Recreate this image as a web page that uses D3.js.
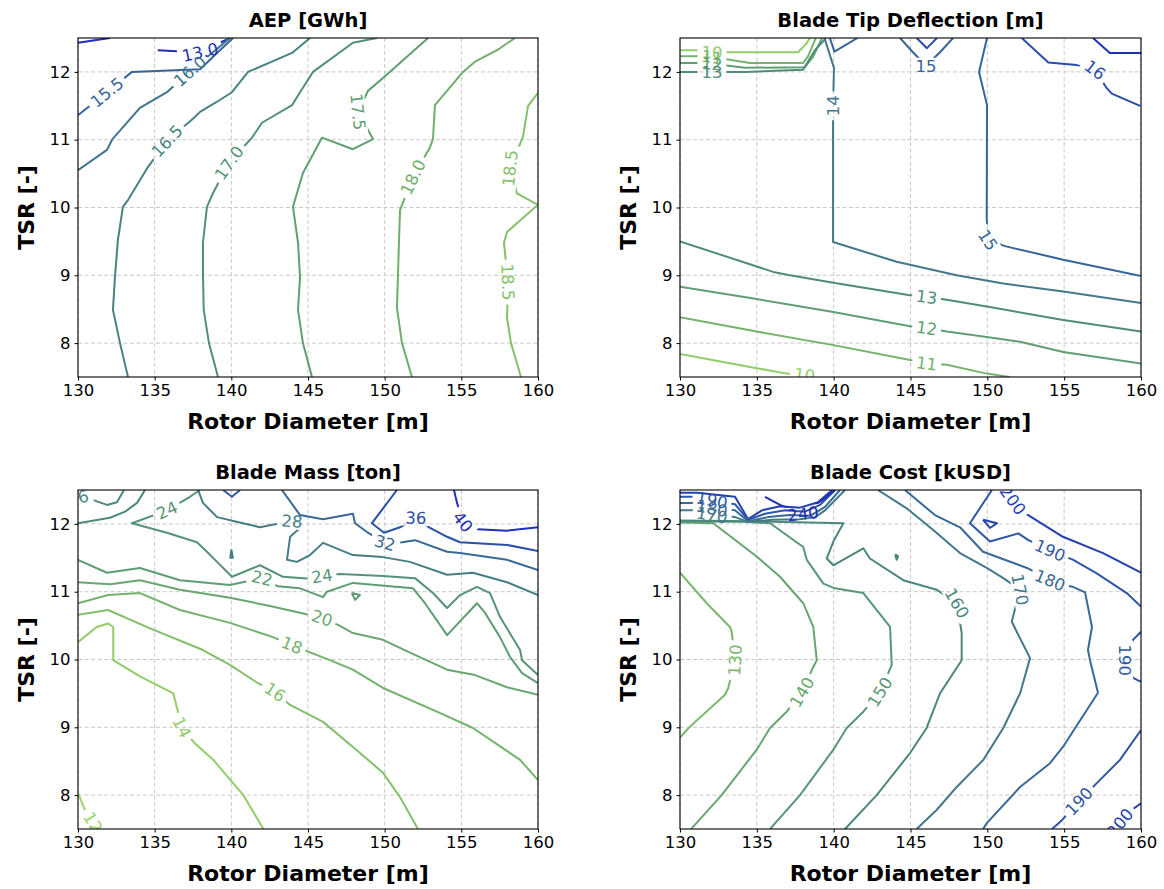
<!DOCTYPE html>
<html><head><meta charset="utf-8">
<script src="https://cdn.jsdelivr.net/npm/d3@7"></script>
<style>body{margin:0;background:#fff} text{font-family:"DejaVu Sans",sans-serif}</style>
</head><body><svg id="c" width="1164" height="889"></svg>
<script>
const xTicks=[130,135,140,145,150,155,160];
const yTicks=[8,9,10,11,12];
const titles=["AEP [GWh]","Blade Tip Deflection [m]","Blade Mass [ton]","Blade Cost [kUSD]"];
const xLabel="Rotor Diameter [m]";
const yLabel="TSR [-]";

const aepContours=[
 {level:13.0,pts:[[135.2,12.32],[136.13,12.31],[137.96,12.29],[139.91,12.5]],labels:[[137.96,12.29]]},
 {level:13.5,pts:[[130,12.43],[131.76,12.49],[132.09,12.5]],labels:[]},
 {level:15.5,pts:[[130,11.36],[131.89,11.7],[133.52,12.0],[137.96,12.04],[139.07,12.28],[140.11,12.5]],labels:[[131.89,11.7]]},
 {level:16.0,pts:[[130,10.55],[131.89,10.85],[132.22,11.0],[134.04,11.47],[135.8,11.7],[137.3,12.01],[139.39,12.4],[139.91,12.5]],labels:[[137.3,12.01]]},
 {level:16.5,pts:[[145.13,12.5],[143.96,12.28],[141.09,12.0],[140.04,11.7],[139.07,11.56],[137.96,11.41],[137.5,11.31],[135.8,10.98],[134.57,10.6],[133.26,10.11],[132.93,10.01],[132.6,9.52],[132.41,8.97],[132.28,8.49],[132.74,8.0],[133.26,7.5]],labels:[[135.8,10.98]]},
 {level:17.0,pts:[[149.5,12.5],[147.93,12.43],[145.33,12.0],[144.48,11.7],[143.96,11.51],[142.0,11.25],[141.35,11.03],[139.85,10.66],[138.8,10.21],[138.41,10.01],[138.15,9.48],[138.15,9.0],[138.2,8.49],[138.54,8.0],[139.13,7.5]],labels:[[139.85,10.66]]},
 {level:17.5,pts:[[152.83,12.5],[149.89,11.91],[148.91,11.72],[148.26,11.41],[149.24,11.01],[147.93,10.86],[145.91,11.03],[144.67,10.51],[144.02,10.01],[144.35,9.48],[144.48,8.97],[144.35,8.49],[144.67,8.0],[145.26,7.5]],labels:[[148.26,11.41]]},
 {level:18.0,pts:[[158.5,12.5],[157.33,12.32],[155.89,12.15],[155.11,12.0],[153.28,11.51],[153.15,11.01],[152.96,10.89],[151.85,10.45],[151.0,9.96],[150.8,8.52],[151.13,8.0],[151.78,7.5]],labels:[[151.85,10.45]]},
 {level:18.5,pts:[[160,11.69],[159.35,11.5],[159.02,11.04],[158.17,10.58],[158.63,10.21],[160,10.04],[157.98,9.64],[157.78,9.48],[158.04,8.9],[157.98,8.37],[158.24,8.0],[158.89,7.5]],labels:[[158.17,10.58],[158.04,8.9]]}
];

const tipContours=[
 {level:10,pts:[[130,12.32],[131.17,12.32],[132.08,12.29],[135.21,12.29],[137.68,12.29],[138.2,12.41],[138.46,12.5]],labels:[[132.08,12.29]]},
 {level:11,pts:[[130,12.23],[131.17,12.23],[132.08,12.22],[134.56,12.13],[138.0,12.13],[138.33,12.23],[138.78,12.47],[138.85,12.5]],labels:[[132.08,12.22]]},
 {level:12,pts:[[130,12.13],[131.17,12.13],[132.08,12.12],[134.23,12.06],[138.13,12.07],[138.65,12.22],[139.11,12.44],[139.24,12.5]],labels:[[132.08,12.12]]},
 {level:13,pts:[[130,12.0],[131.17,12.0],[132.08,12.0],[134.23,12.0],[138.0,12.03],[138.78,12.32],[139.5,12.5]],labels:[[132.08,12.0]]},
 {level:14,pts:[[139.4,12.5],[140.02,12.06],[139.96,11.5],[139.96,9.49],[144.1,9.2],[148.0,9.0],[151.04,8.88],[154.94,8.76],[160,8.59]],labels:[[139.96,11.5]]},
 {level:15,pts:[[139.75,12.5],[140.05,12.3],[141.55,12.5]],labels:[]},
 {level:15,pts:[[144.32,12.5],[145.16,12.29],[146.01,12.09],[146.92,12.29],[147.77,12.5]],labels:[[146.01,12.09]]},
 {level:16,pts:[[145.4,12.5],[146.07,12.35],[146.72,12.5]],labels:[]},
 {level:15,pts:[[149.98,12.5],[149.46,12.0],[149.98,11.51],[149.96,9.84],[150.04,9.52],[151.15,9.43],[154.94,9.23],[160,8.99]],labels:[[150.04,9.52]]},
 {level:16,pts:[[152.24,12.5],[153.97,12.14],[155.82,12.1],[157.01,12.03],[157.77,11.76],[158.1,11.68],[159.94,11.5]],labels:[[157.01,12.03]]},
 {level:17,pts:[[156.88,12.5],[157.97,12.28],[160,12.28]],labels:[]},
 {level:13,pts:[[130,9.5],[136.07,9.05],[137.16,9.0],[139.98,8.89],[144.86,8.71],[146.05,8.68],[147.36,8.64],[149.96,8.54],[154.94,8.34],[160,8.17]],labels:[[146.05,8.68]]},
 {level:12,pts:[[130,8.83],[134.99,8.65],[139.98,8.46],[144.97,8.25],[146.05,8.22],[147.36,8.17],[149.96,8.09],[152.13,8.02],[154.94,7.87],[160,7.7]],labels:[[146.05,8.22]]},
 {level:11,pts:[[130,8.38],[134.99,8.17],[139.98,7.97],[144.97,7.75],[146.05,7.7],[147.36,7.68],[149.96,7.55],[151.47,7.5]],labels:[[146.05,7.7]]},
 {level:10,pts:[[130,7.84],[134.99,7.63],[136.96,7.55],[138.1,7.53],[138.6,7.5]],labels:[[138.1,7.53]]}
];

const massContours=[
 {level:12,pts:[[130,8.03],[130.46,7.78],[130.98,7.6],[131.24,7.5]],labels:[[130.98,7.6]]},
 {level:14,pts:[[130.02,10.26],[131.22,10.48],[131.98,10.53],[132.3,10.48],[132.3,9.99],[134.04,9.75],[136.22,9.5],[136.44,9.3],[136.78,9.0],[137.63,8.76],[138.82,8.52],[140.78,8.0],[142.09,7.5]],labels:[[136.78,9.0]]},
 {level:16,pts:[[130,10.66],[131.96,10.73],[134.7,10.46],[138.15,10.14],[139.91,9.92],[141.74,9.65],[142.85,9.52],[143.83,9.33],[145.98,9.08],[147.93,8.71],[149.89,8.33],[151.0,7.97],[152.17,7.5]],labels:[[142.85,9.52]]},
 {level:18,pts:[[130,10.83],[131.96,10.95],[134.04,10.98],[136.65,10.73],[139.91,10.54],[142.72,10.33],[143.96,10.21],[146.43,9.99],[147.93,9.85],[149.89,9.58],[153.41,9.23],[155.76,8.99],[158.83,8.52],[160,8.22]],labels:[[143.96,10.21]]},
 {level:20,pts:[[130,11.14],[132.09,11.11],[134.04,11.17],[136.65,11.03],[139.91,10.91],[142.52,10.79],[144.48,10.69],[145.91,10.61],[146.96,10.51],[147.93,10.39],[149.89,10.29],[151.65,10.1],[154.07,9.85],[155.89,9.77],[157.98,9.59],[160,9.48]],labels:[[145.91,10.61]]},
 {level:22,pts:[[130,11.47],[131.89,11.28],[134.04,11.35],[136.65,11.17],[139.91,11.1],[141.35,11.17],[142.0,11.2],[143.04,11.08],[144.48,11.05],[145.98,10.92],[146.24,11.0],[147.93,11.13],[151.85,11.05],[152.63,10.83],[154.07,10.36],[156.02,10.83],[156.54,10.69],[157.52,10.33],[158.17,10.04],[158.96,9.8],[160,9.65]],labels:[[142.0,11.2]]},
 {level:22,pts:[[147.85,10.98],[148.39,10.95],[148.07,10.88],[147.85,10.98]],labels:[]},
 {level:24,pts:[[137.96,12.5],[137.3,12.4],[135.8,12.2],[133.52,12.01],[135.8,11.87],[137.76,11.73],[138.41,11.59],[139.07,11.44],[140.04,11.22],[141.87,11.39],[143.37,11.22],[145.13,11.19],[145.91,11.23],[147.09,11.26],[149.89,11.23],[151.98,11.2],[153.15,10.98],[154.07,10.76],[154.91,10.95],[156.02,11.07],[156.87,10.98],[157.52,10.63],[158.83,10.14],[158.96,9.99],[160,9.77]],labels:[[135.8,12.2],[145.91,11.23]]},
 {level:26,pts:[[130,12.01],[132.09,12.09],[133.07,12.18],[133.85,12.31],[134.37,12.5]],labels:[]},
 {level:26,pts:[[130,12.38],[130.3,12.4],[131.0,12.35],[131.89,12.28],[132.54,12.32],[133.0,12.5]],labels:[[130,12.38]]},
 {level:28,pts:[[137.83,12.5],[138.15,12.31],[139.07,12.1],[140.76,12.01],[141.87,11.95],[142.52,11.98],[143.96,12.04],[144.48,11.94],[143.83,11.81],[143.63,11.47],[144.28,11.44],[145.13,11.54],[145.98,11.72],[147.93,11.54],[149.89,11.51],[151.65,11.44],[154.07,11.25],[155.76,11.28],[157.98,11.14],[160,10.95]],labels:[[143.96,12.04]]},
 {level:28,pts:[[140.0,11.62],[140.1,11.5],[139.93,11.5],[140.0,11.62]],labels:[]},
 {level:32,pts:[[143.3,12.5],[144.48,12.13],[145.98,12.07],[147.93,12.15],[148.07,12.01],[148.91,11.87],[150.02,11.72],[151.13,11.73],[151.98,11.76],[154.07,11.59],[154.91,11.57],[157.98,11.47],[160,11.32]],labels:[[150.02,11.72]]},
 {level:34,pts:[[139.46,12.5],[140.04,12.4],[140.57,12.5]],labels:[]},
 {level:36,pts:[[150.8,12.5],[149.17,12.01],[149.96,11.87],[151.0,11.95],[152.04,12.09],[152.96,11.94],[154.07,11.81],[154.91,11.73],[157.98,11.69],[160,11.6]],labels:[[152.04,12.09]]},
 {level:40,pts:[[154.52,12.5],[154.72,12.31],[155.11,12.03],[156.09,11.92],[157.98,11.9],[160,11.95]],labels:[[155.11,12.03]]}
];

const costContours=[
 {level:130,pts:[[130,11.28],[131.74,10.83],[133.25,10.48],[133.36,10.41],[133.58,9.99],[133.14,9.58],[132.93,9.48],[130.65,9.01],[130,8.85]],labels:[[133.58,9.99]]},
 {level:140,pts:[[130,12.02],[132.17,12.01],[134.99,11.52],[136.51,11.22],[138.02,10.83],[138.67,10.48],[138.9,9.99],[138.67,9.89],[137.94,9.52],[136.94,9.23],[135.86,8.99],[134.99,8.67],[132.71,8.0],[130.76,7.51],[130.72,7.5]],labels:[[137.94,9.52]]},
 {level:150,pts:[[130,12.035],[134.23,12.03],[135.86,12.01],[138.02,11.66],[138.25,11.47],[139.33,11.12],[140.09,11.05],[141.93,10.98],[143.67,10.48],[143.78,9.92],[143.01,9.52],[141.93,9.23],[140.85,8.99],[139.98,8.67],[137.81,8.0],[135.86,7.5]],labels:[[143.01,9.52]]},
 {level:160,pts:[[130,12.05],[134.43,12.04],[140.63,12.01],[139.98,11.74],[139.55,11.49],[139.98,11.39],[141.93,11.64],[142.36,11.49],[144.53,11.17],[146.7,11.03],[148.03,10.83],[148.33,10.39],[148.33,9.99],[146.92,9.5],[146.05,8.99],[144.97,8.62],[142.8,8.0],[140.74,7.5]],labels:[[148.03,10.83]]},
 {level:160,pts:[[144.0,11.55],[144.2,11.52],[144.1,11.47],[144.0,11.55]],labels:[]},
 {level:170,pts:[[142.88,12.5],[144.75,12.23],[146.48,11.91],[148.22,11.57],[149.96,11.35],[151.04,11.2],[152.13,11.03],[151.59,10.56],[151.91,10.41],[152.78,10.02],[152.13,9.5],[151.04,8.99],[149.74,8.52],[148.01,8.12],[146.7,7.78],[145.4,7.5]],labels:[[152.13,11.03]]},
 {level:180,pts:[[144.64,12.5],[146.59,12.13],[148.22,11.95],[149.72,11.59],[152.58,11.35],[154.08,11.17],[155.57,11.07],[156.36,10.99],[156.81,10.48],[156.55,10.14],[156.68,9.99],[157.2,9.51],[154.92,8.71],[154.08,8.47],[152.13,8.12],[149.98,7.59],[149.72,7.5]],labels:[[154.08,11.17]]},
 {level:190,pts:[[150.3,12.5],[148.87,12.01],[150.17,11.74],[152.01,11.86],[152.67,11.76],[154.08,11.61],[155.59,11.47],[157.12,11.27],[159.07,10.98],[160,10.78]],labels:[[154.08,11.61]]},
 {level:190,pts:[[160,10.41],[159.48,10.29],[158.96,9.99],[159.48,9.73],[160,9.67]],labels:[[158.96,9.99]]},
 {level:190,pts:[[160,8.96],[158.63,8.52],[157.14,8.18],[155.96,7.91],[154.86,7.63],[154.21,7.5]],labels:[[155.96,7.91]]},
 {level:200,pts:[[151.34,12.5],[151.67,12.35],[152.45,12.16],[154.92,11.81],[157.53,11.57],[160,11.28]],labels:[[151.67,12.35]]},
 {level:200,pts:[[160,7.88],[159.15,7.74],[158.63,7.59],[158.3,7.5]],labels:[[158.63,7.59]]},
 {level:200,pts:[[149.72,12.06],[150.63,12.01],[150.17,11.94],[149.72,12.06]],labels:[]},
 {level:200,pts:[[130,12.46],[131.11,12.46],[133.58,12.4],[134.43,12.07],[135.34,12.2],[136.51,12.26],[137.81,12.24],[138.98,12.32],[139.9,12.5]],labels:[]},
 {level:190,pts:[[130,12.4],[131.11,12.4],[132.08,12.35],[133.58,12.29],[134.43,12.06],[135.53,12.15],[136.83,12.2],[138.13,12.18],[139.11,12.28],[140.09,12.5]],labels:[[132.08,12.35]]},
 {level:180,pts:[[130,12.31],[131.11,12.31],[132.08,12.23],[133.58,12.2],[134.43,12.04],[135.73,12.1],[137.16,12.13],[138.46,12.12],[139.44,12.25],[140.41,12.5]],labels:[[132.08,12.23]]},
 {level:170,pts:[[130,12.2],[131.11,12.2],[132.08,12.13],[133.58,12.1],[134.43,12.03],[135.99,12.06],[137.81,12.07],[138.79,12.1],[139.44,12.2],[140.74,12.5]],labels:[[132.08,12.13]]},
 {level:240,pts:[[135.53,12.4],[136.51,12.28],[138.0,12.15],[139.24,12.35],[140.09,12.5]],labels:[[138.0,12.15]]}
];

const W=1164,H=889;
const cmap=d3.scaleLinear().domain([0,0.2,0.45,0.7,0.85,1])
  .range(["#9ad46a","#70b06c","#4f8c79","#3a6a96","#2a50aa","#1c30b8"]).clamp(true);

const panels=[
 {title:titles[0],box:[78,538,38,377],data:aepContours,fmt:d3.format(".1f"),tOf:v=>(19.0-v)*0.21},
 {title:titles[1],box:[680,1141,38,377],data:tipContours,fmt:d3.format("d"),tOf:v=>(v-9.7)/7.3},
 {title:titles[2],box:[78,538,490,829],data:massContours,fmt:d3.format("d"),tOf:v=>(v-13)/27},
 {title:titles[3],box:[680,1141,490,829],data:costContours,fmt:d3.format("d"),tOf:v=>(v-115)/92}
];

const svg=d3.select("#c");
const defs=svg.append("defs");

panels.forEach((p,pi)=>{
  const [l,r,t,b]=p.box;
  const x=d3.scaleLinear().domain([130,160]).range([l,r]);
  const y=d3.scaleLinear().domain([7.5,12.5]).range([b,t]);
  const g=svg.append("g");
  defs.append("clipPath").attr("id","clip"+pi).append("rect")
    .attr("x",l).attr("y",t).attr("width",r-l).attr("height",b-t);

  const grid=g.append("g").attr("stroke","#c8c8c8").attr("stroke-width",1).attr("stroke-dasharray","4,2.5");
  grid.selectAll("line.v").data(xTicks).join("line").attr("class","v")
    .attr("x1",d=>x(d)).attr("x2",d=>x(d)).attr("y1",t).attr("y2",b);
  grid.selectAll("line.h").data(yTicks).join("line").attr("class","h")
    .attr("y1",d=>y(d)).attr("y2",d=>y(d)).attr("x1",l).attr("x2",r);

  const lineGen=d3.line().x(d=>x(d[0])).y(d=>y(d[1]));
  const cg=g.append("g").attr("clip-path",`url(#clip${pi})`);
  const lg=g.append("g").attr("clip-path",`url(#clip${pi})`);
  p.data.forEach((c,ci)=>{
    const col=cmap(p.tOf(c.level));
    const path=cg.append("path").attr("d",lineGen(c.pts)).attr("fill","none")
      .attr("stroke",col).attr("stroke-width",2).attr("stroke-linejoin","round");
    if(c.labels.length){
      const mid=`m${pi}_${ci}`;
      const m=defs.append("mask").attr("id",mid).attr("maskUnits","userSpaceOnUse")
        .attr("x",0).attr("y",0).attr("width",W).attr("height",H);
      m.append("rect").attr("x",0).attr("y",0).attr("width",W).attr("height",H).attr("fill","white");
      c.labels.forEach(lp=>{
        let bi=0,bd=1e9;
        c.pts.forEach((q,qi)=>{const dd=Math.hypot(q[0]-lp[0],q[1]-lp[1]); if(dd<bd){bd=dd;bi=qi;}});
        const pr=c.pts[Math.max(0,bi-1)], nx=c.pts[Math.min(c.pts.length-1,bi+1)];
        let a=Math.atan2(y(nx[1])-y(pr[1]),x(nx[0])-x(pr[0]))*180/Math.PI;
        if(a>90)a-=180; if(a<-90)a+=180;
        const px=x(lp[0]),py=y(lp[1]);
        const tx=lg.append("text").attr("transform",`translate(${px},${py}) rotate(${a})`)
          .attr("text-anchor","middle").attr("dy","0.36em").attr("fill",col)
          .style("font-size","16.5px").text(p.fmt(c.level));
        const w=tx.node().getComputedTextLength();
        m.append("rect").attr("transform",`translate(${px},${py}) rotate(${a})`)
          .attr("x",-w/2-4).attr("y",-8).attr("width",w+8).attr("height",16).attr("fill","black");
      });
      path.attr("mask",`url(#${mid})`);
    }
  });

  const ax=g.append("g").attr("transform",`translate(0,${b})`)
    .call(d3.axisBottom(x).tickValues(xTicks).tickFormat(d3.format("d")).tickSize(3.5).tickPadding(4).tickSizeOuter(0));
  const ay=g.append("g").attr("transform",`translate(${l},0)`)
    .call(d3.axisLeft(y).tickValues(yTicks).tickFormat(d3.format("d")).tickSize(3.5).tickPadding(4).tickSizeOuter(0));
  [ax,ay].forEach(a=>{
    a.select(".domain").remove();
    a.selectAll("line").attr("stroke","#000").attr("stroke-width",1);
    a.selectAll("text").attr("fill","#000").style("font-size","16.5px").style("font-family","DejaVu Sans");
  });
  g.append("rect").attr("x",l).attr("y",t).attr("width",r-l).attr("height",b-t)
    .attr("fill","none").attr("stroke","#000").attr("stroke-width",1.1);

  g.append("text").attr("x",(l+r)/2).attr("y",t-11).attr("text-anchor","middle")
    .style("font-size","19.5px").style("font-weight","bold").text(p.title);
  g.append("text").attr("x",(l+r)/2).attr("y",b+52).attr("text-anchor","middle")
    .style("font-size","22px").style("font-weight","bold").text(xLabel);
  g.append("text").attr("transform",`translate(${l-44},${(t+b)/2}) rotate(-90)`).attr("text-anchor","middle")
    .style("font-size","22px").style("font-weight","bold").text(yLabel);
});
</script></body></html>
